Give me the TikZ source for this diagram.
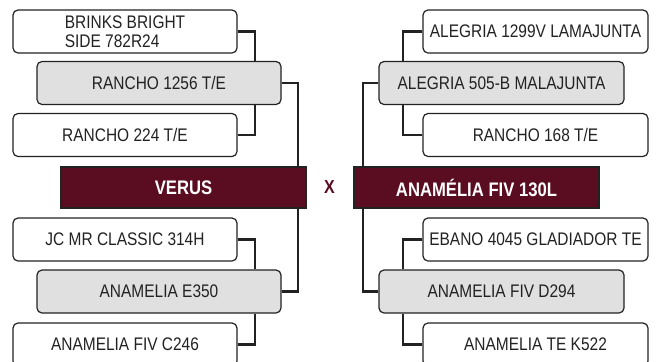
\documentclass[tikz,border=0pt]{standalone}
\usepackage{fontspec}
\setmainfont{Liberation Sans}[FakeStretch=0.85]
\definecolor{vinho}{RGB}{90,12,32}
\definecolor{cinza}{RGB}{224,224,224}
\definecolor{tinta}{RGB}{34,34,34}

\begin{document}
\begin{tikzpicture}[
    x=0.5pt, y=-0.5pt,
    pai/.style={draw=tinta, line width=0.6pt, rounded corners=2.5pt, fill=white,
        text=tinta, font=\fontsize{9.1}{9.5}\selectfont,
        minimum height=21.5pt, inner sep=0pt},
    avo/.style={pai, fill=cinza},
    touro/.style={draw=tinta, line width=0.6pt, fill=vinho, text=white,
        font=\bfseries\fontsize{9.8}{11}\selectfont,
        minimum width=122.5pt, minimum height=20.5pt, inner sep=0pt},
    link/.style={draw=tinta, line width=1.1pt}
]
\useasboundingbox (0,0) rectangle (656,361);
\clip (0,0) rectangle (656,361);

% lado esquerdo
\node[pai, minimum width=112pt, align=left] (brinks) at (125,31.5) {BRINKS BRIGHT\\SIDE 782R24};
\node[avo, minimum width=122pt] (r1256) at (159,83) {RANCHO 1256 T/E};
\node[pai, minimum width=112pt] (r224) at (125,135) {RANCHO 224 T/E};
\node[touro] (verus) at (183.5,187.5) {VERUS};
\node[pai, minimum width=112pt] (jc) at (125,239.5) {JC MR CLASSIC 314H};
\node[avo, minimum width=122pt] (e350) at (159,291.5) {ANAMELIA E350};
\node[pai, minimum width=112pt] (c246) at (125,344.5) {ANAMELIA FIV C246};

% lado direito
\node[pai, minimum width=112.5pt] (a1299) at (535.5,31.5) {ALEGRIA 1299V LAMAJUNTA};
\node[avo, minimum width=122.5pt] (a505) at (501.5,83) {ALEGRIA 505-B MALAJUNTA};
\node[pai, minimum width=112.5pt] (r168) at (535.5,135) {RANCHO 168 T/E};
\node[touro] (anamelia) at (476.5,187.5) {ANAMÉLIA FIV 130L};
\node[pai, minimum width=112.5pt] (ebano) at (535.5,239.5) {EBANO 4045 GLADIADOR TE};
\node[avo, minimum width=122.5pt] (d294) at (501.5,291.5) {ANAMELIA FIV D294};
\node[pai, minimum width=112.5pt] (k522) at (535.5,344.5) {ANAMELIA TE K522};

\node[text=vinho, font=\bfseries\fontsize{9.4}{11}\selectfont] (cruza) at (329.5,187) {X};

% colunas dos conectores
\coordinate (jl1) at (255,0);
\coordinate (jl2) at (298,0);
\coordinate (jr1) at (403,0);
\coordinate (jr2) at (363,0);

\draw[link] (brinks.east) -| (r1256.north -| jl1);
\draw[link] (r224.east) -| (r1256.south -| jl1);
\draw[link] (r1256.east) -| (verus.north -| jl2);
\draw[link] (jc.east) -| (e350.north -| jl1);
\draw[link] (c246.east) -| (e350.south -| jl1);
\draw[link] (e350.east) -| (verus.south -| jl2);

\draw[link] (a1299.west) -| (a505.north -| jr1);
\draw[link] (r168.west) -| (a505.south -| jr1);
\draw[link] (a505.west) -| (anamelia.north -| jr2);
\draw[link] (ebano.west) -| (d294.north -| jr1);
\draw[link] (k522.west) -| (d294.south -| jr1);
\draw[link] (d294.west) -| (anamelia.south -| jr2);
\end{tikzpicture}
\end{document}
